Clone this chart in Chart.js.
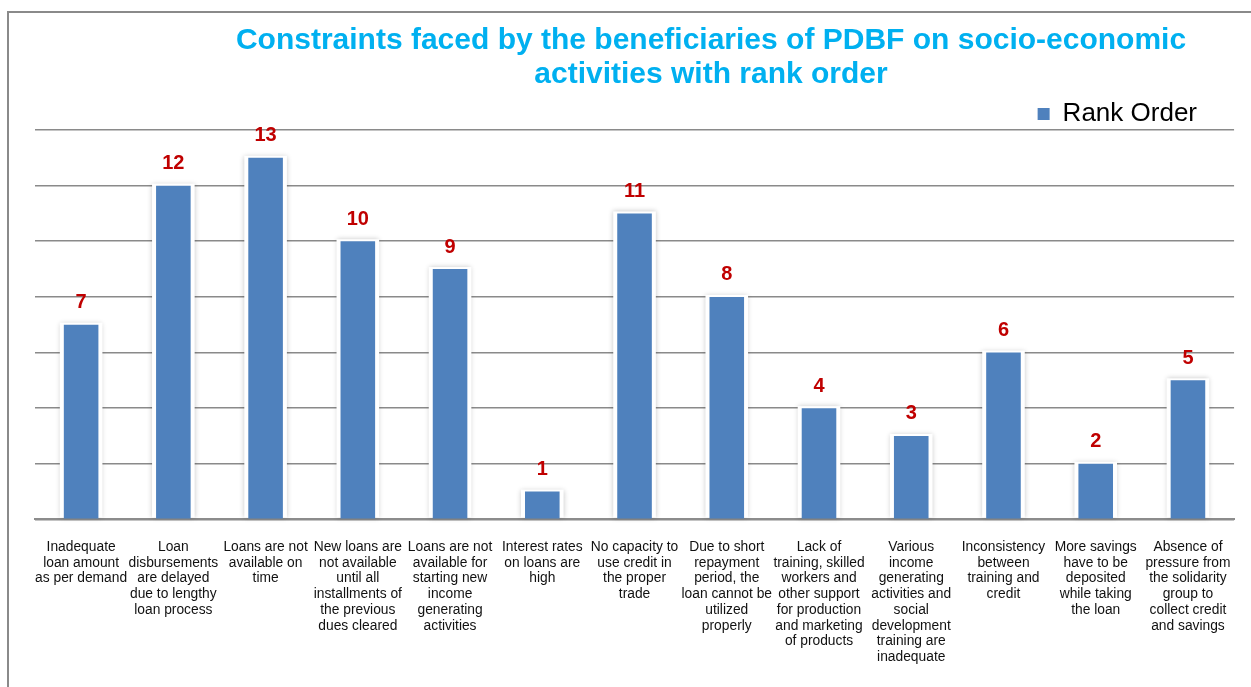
<!DOCTYPE html>
<html>
<head>
<meta charset="utf-8">
<script src="https://cdn.jsdelivr.net/npm/chart.js@4.4.1/dist/chart.umd.min.js"></script>
<style>
  html, body { margin: 0; padding: 0; background: #ffffff; }
  #wrap { position: relative; width: 1251px; height: 687px; overflow: hidden; }
  #frame { position: absolute; left: 7px; top: 11px; width: 1400px; height: 800px;
           border-left: 2px solid #8a8a8a; border-top: 2px solid #8a8a8a; }
  #wrap canvas { position: absolute; left: 0; top: 0; }
</style>
</head>
<body>
<div id="wrap">
  <div id="frame"></div>
  <canvas id="c" width="1251" height="687"></canvas>
</div>
<script>
// ---- data ----
const titleLines = [
  'Constraints faced by the beneficiaries of PDBF on socio-economic',
  'activities with rank order'
];
const seriesName = 'Rank Order';
const categories = [
  ['Inadequate', 'loan amount', 'as per demand'],
  ['Loan', 'disbursements', 'are delayed', 'due to lengthy', 'loan process'],
  ['Loans are not', 'available on', 'time'],
  ['New loans are', 'not available', 'until all', 'installments of', 'the previous', 'dues cleared'],
  ['Loans are not', 'available for', 'starting new', 'income', 'generating', 'activities'],
  ['Interest rates', 'on loans are', 'high'],
  ['No capacity to', 'use credit in', 'the proper', 'trade'],
  ['Due to short', 'repayment', 'period, the', 'loan cannot be', 'utilized', 'properly'],
  ['Lack of', 'training, skilled', 'workers and', 'other support', 'for production', 'and marketing', 'of products'],
  ['Various', 'income', 'generating', 'activities and', 'social', 'development', 'training are', 'inadequate'],
  ['Inconsistency', 'between', 'training and', 'credit'],
  ['More savings', 'have to be', 'deposited', 'while taking', 'the loan'],
  ['Absence of', 'pressure from', 'the solidarity', 'group to', 'collect credit', 'and savings']
];
const rankValues = [7, 12, 13, 10, 9, 1, 11, 8, 4, 3, 6, 2, 5];
const yMin = 0, yMax = 14, yStep = 2;

const FONT = "'Liberation Sans', Arial, Helvetica, sans-serif";

// soft halo behind bars
const haloPlugin = {
  id: 'halo',
  beforeDatasetsDraw(chart) {
    const ctx = chart.ctx;
    const meta = chart.getDatasetMeta(0);
    ctx.save();
    meta.data.forEach(el => {
      const p = el.getProps(['x', 'y', 'base', 'width'], true);
      ctx.shadowColor = 'rgba(0,0,0,0.22)';
      ctx.shadowBlur = 5;
      ctx.fillStyle = '#ffffff';
      ctx.fillRect(p.x - p.width / 2 - 4, p.y - 2, p.width + 8, p.base - p.y + 1);
    });
    ctx.restore();
  }
};

// value labels above bars
const valueLabelPlugin = {
  id: 'valueLabels',
  afterDatasetsDraw(chart) {
    const ctx = chart.ctx;
    const ds = chart.data.datasets[0];
    const meta = chart.getDatasetMeta(0);
    ctx.save();
    ctx.font = 'bold 20px ' + FONT;
    ctx.fillStyle = '#C00000';
    ctx.textAlign = 'center';
    ctx.textBaseline = 'middle';
    meta.data.forEach((el, i) => {
      const p = el.getProps(['x', 'y'], true);
      ctx.fillText(String(ds.data[i]), p.x, p.y - 22);
    });
    ctx.restore();
  }
};

// nudge title and legend to the reference positions
const placePlugin = {
  id: 'place',
  afterLayout(chart) {
    const t = chart.titleBlock;
    if (t) {
      const dx = 711 - (t.left + t.right) / 2;
      t.left += dx; t.right += dx;
    }
    const lg = chart.legend;
    if (lg) {
      const dx = 1197 - (lg.right - 2);
      lg.left += dx; lg.right += dx;
      lg.top += 7; lg.bottom += 7;
    }
  }
};

new Chart(document.getElementById('c'), {
  type: 'bar',
  data: {
    labels: categories,
    datasets: [{
      label: seriesName,
      data: rankValues,
      backgroundColor: '#4F81BD',
      borderWidth: 0,
      barPercentage: 0.375,
      categoryPercentage: 1.0
    }]
  },
  options: {
    responsive: false,
    animation: false,
    devicePixelRatio: 1,
    layout: { padding: { left: 35, right: 13, top: 0, bottom: 2 } },
    plugins: {
      title: {
        display: true,
        text: titleLines,
        color: '#00B0F0',
        font: { family: FONT, size: 30, weight: 'bold', lineHeight: 34 / 30 },
        padding: { top: 24, bottom: 0 }
      },
      legend: {
        display: true,
        position: 'top',
        align: 'end',
        labels: {
          boxWidth: 12,
          boxHeight: 12,
          padding: 2,
          color: '#000000',
          font: { family: FONT, size: 26 }
        }
      },
      tooltip: { enabled: false }
    },
    scales: {
      x: {
        grid: { display: false, drawTicks: false },
        border: { display: true, color: '#8c8c8c', width: 2 },
        ticks: {
          autoSkip: false,
          maxRotation: 0,
          minRotation: 0,
          padding: 20,
          color: '#111111',
          font: { family: FONT, size: 13.8, lineHeight: 15.7 / 13.8 }
        }
      },
      y: {
        min: yMin,
        max: yMax,
        grid: { color: '#8a8a8a', lineWidth: 1.6, drawTicks: false },
        border: { display: false },
        ticks: { display: false, stepSize: yStep }
      }
    }
  },
  plugins: [haloPlugin, valueLabelPlugin, placePlugin]
});
</script>
</body>
</html>
